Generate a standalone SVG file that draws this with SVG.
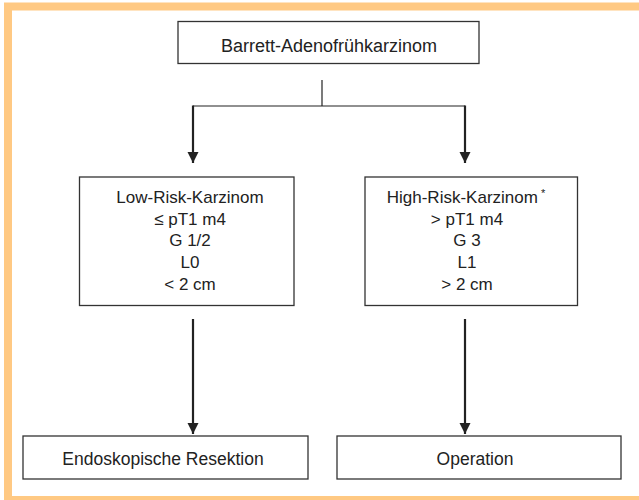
<svg xmlns="http://www.w3.org/2000/svg" width="639" height="500" viewBox="0 0 639 500">
  <defs>
    <style>
      .box { fill: #ffffff; stroke: #333333; stroke-width: 1.3; }
      .t { font-family: "Liberation Sans", Arial, sans-serif; font-size: 17px; fill: #222222; text-anchor: middle; }
      .thin { stroke: #222222; stroke-width: 1.2; fill: none; }
      .arr { stroke: #222222; stroke-width: 2.2; fill: none; marker-end: url(#ah); }
      .frame { fill: none; stroke: #FFC983; stroke-width: 8; }
    </style>
    <marker id="ah" markerUnits="userSpaceOnUse" markerWidth="12" markerHeight="12" refX="11" refY="5.5" orient="auto">
      <path d="M0,0 L11,5.5 L0,11 Z" fill="#222222"/>
    </marker>
  </defs>
  <rect width="639" height="500" fill="#ffffff"/>
  <rect class="frame" x="8" y="6.5" width="645" height="493.5"/>

  <g id="connectors">
    <line class="thin" x1="322" y1="80" x2="322" y2="106"/>
    <line class="thin" x1="193" y1="106" x2="465" y2="106"/>
    <line class="arr" x1="193" y1="105.5" x2="193" y2="163"/>
    <line class="arr" x1="465" y1="105.5" x2="465" y2="163"/>
    <line class="arr" x1="193" y1="319" x2="193" y2="434"/>
    <line class="arr" x1="465" y1="319" x2="465" y2="434"/>
  </g>

  <g id="node-barrett">
    <rect class="box" x="178" y="21.5" width="301" height="42"/>
    <text class="t" x="329" y="52" style="font-size:18px">Barrett-Adenofrühkarzinom</text>
  </g>

  <g id="node-lowrisk">
    <rect class="box" x="79.5" y="177" width="214.5" height="128.5"/>
    <text class="t" x="190" y="203">Low-Risk-Karzinom</text>
    <text class="t" x="190" y="224.5">≤ pT1 m4</text>
    <text class="t" x="190" y="246">G 1/2</text>
    <text class="t" x="190" y="268">L0</text>
    <text class="t" x="190" y="290">&lt; 2 cm</text>
  </g>

  <g id="node-highrisk">
    <rect class="box" x="365" y="177" width="212.5" height="128.5"/>
    <text class="t" x="466" y="203">High-Risk-Karzinom<tspan font-size="11" dy="-6"> *</tspan></text>
    <text class="t" x="467" y="224.5">&gt; pT1 m4</text>
    <text class="t" x="467" y="246">G 3</text>
    <text class="t" x="467" y="268">L1</text>
    <text class="t" x="467" y="290">&gt; 2 cm</text>
  </g>

  <g id="node-endoskopisch">
    <rect class="box" x="23" y="436" width="285" height="43"/>
    <text class="t" x="163" y="465" style="font-size:17.5px">Endoskopische Resektion</text>
  </g>

  <g id="node-operation">
    <rect class="box" x="337" y="436" width="284" height="43"/>
    <text class="t" x="475" y="465" style="font-size:17.5px">Operation</text>
  </g>
</svg>
